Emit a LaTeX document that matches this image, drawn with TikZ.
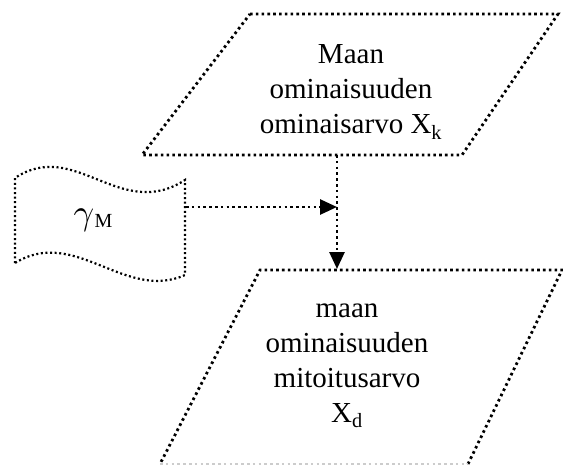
\documentclass[tikz,border=0pt]{standalone}
\usepackage{fontspec}
\usepackage{graphicx}
\setmainfont{Liberation Serif}
\usetikzlibrary{arrows.meta}
\begin{document}
\begin{tikzpicture}[x=1pt,y=-1pt,
  dotline/.style={line width=2.8pt, dash pattern=on 2.6pt off 3.2pt},
  thinwave/.style={line width=2.2pt, dash pattern=on 2pt off 2.6pt},
  lbl/.style={align=center, font=\fontsize{29}{35}\selectfont, inner sep=0pt},
  tip/.style={-{Triangle[length=17pt,width=15pt]}}
]
\useasboundingbox (0,0) rectangle (563,466);
% top parallelogram
\draw[dotline] (250,14) -- (558,14) -- (462,155) -- (142,155) -- cycle;
\node[lbl] (top) at (351,92) {Maan\\ominaisuuden\\ominaisarvo X\textsubscript{k}};
% bottom parallelogram
\draw[dotline] (468,464) -- (562,270) -- (260,270) -- (160,464);
\draw[dotline, gray!40] (160,464) -- (468,464);
\node[lbl] (bot) at (347,366) {maan\\ominaisuuden\\mitoitusarvo\\X\textsubscript{d}};
% wave (input) shape
\draw[thinwave] (15,263) -- (15,178) .. controls (75,138) and (120,222) .. (185,180)
  -- (185,275) .. controls (125,302) and (75,226) .. cycle;
\node[inner sep=0pt] (gam) at (93,220) {\scalebox{3.6}{$\gamma$}\kern0.5pt\raisebox{-3pt}{\fontsize{20}{20}\selectfont M}};
% connectors
\coordinate (topb) at (337,155);
\coordinate (join) at (337,207);
\coordinate (gr) at (186,207);
\coordinate (bott) at (337,269);
\draw[dotline, tip] (gr) -- (join);
\draw[dotline, tip] (topb) -- (bott);
\end{tikzpicture}
\end{document}
